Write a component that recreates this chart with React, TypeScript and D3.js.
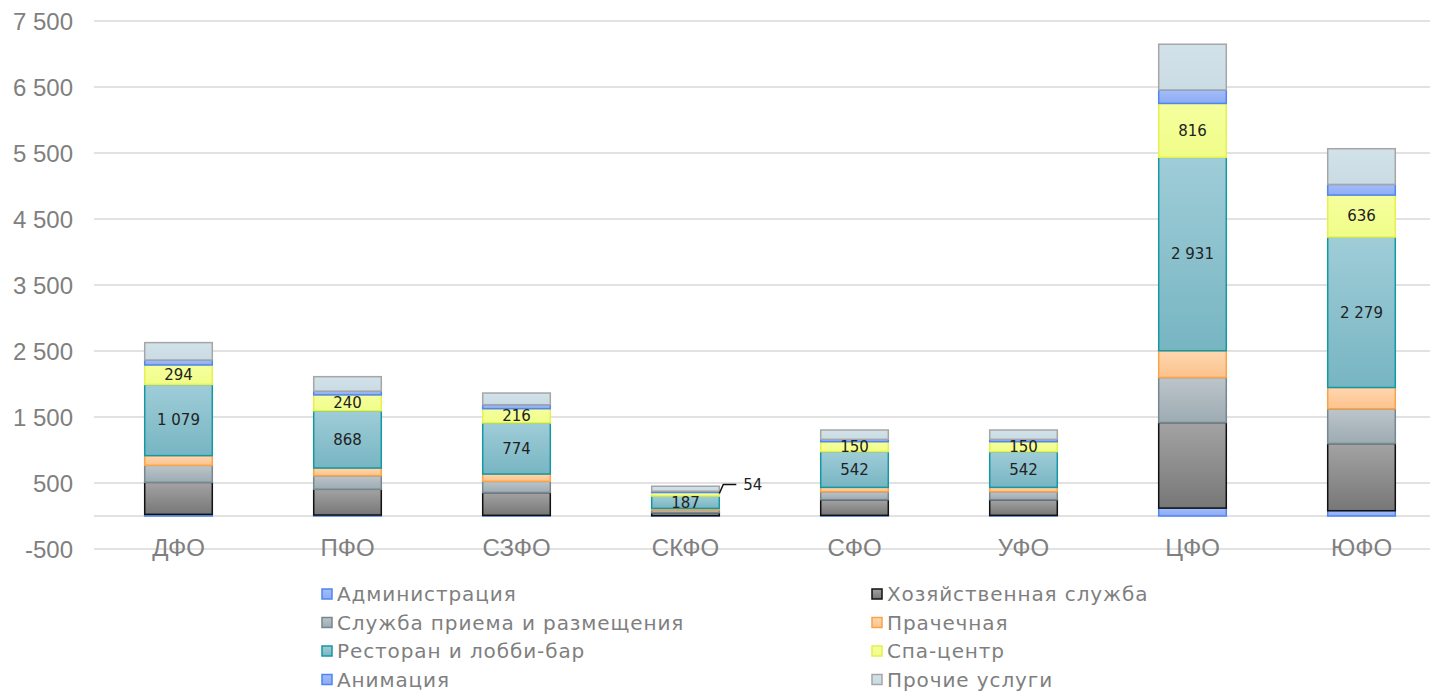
import React from 'react';
import * as d3 from 'd3';

const categories = ['ДФО', 'ПФО', 'СЗФО', 'СКФО', 'СФО', 'УФО', 'ЦФО', 'ЮФО'];
const seriesNames = [
    'Администрация',
    'Хозяйственная служба',
    'Служба приема и размещения',
    'Прачечная',
    'Ресторан и лобби-бар',
    'Спа-центр',
    'Анимация',
    'Прочие услуги',
];
const admin = [25, 15, 10, 5, 10, 10, 120, 80];
const housekeeping = [485, 390, 345, 45, 237, 237, 1296, 1018];
const reception = [258, 206, 170, 40, 122, 122, 683, 526];
const laundry = [147, 116, 111, 25, 65, 65, 405, 323];
const restaurant = [1079, 868, 774, 187, 542, 542, 2931, 2279];
const spa = [294, 240, 216, 54, 150, 150, 816, 636];
const animation = [76, 56, 60, 20, 35, 35, 204, 162];
const other = [263, 220, 177, 75, 142, 142, 693, 541];
const yTicks = [-500, 500, 1500, 2500, 3500, 4500, 5500, 6500, 7500];

const seriesValues = [admin, housekeeping, reception, laundry, restaurant, spa, animation, other];
// серии с подписями данных
const labelled = [4, 5];

// цвета: верх градиента, низ градиента, рамка
const palette = [
    ['#a3bdf8', '#8eabf5', '#4f86f0'],
    ['#a3a3a3', '#777777', '#111111'],
    ['#bcc5ca', '#9dabb2', '#76878f'],
    ['#ffd7b0', '#fcc28c', '#f8a448'],
    ['#9fcdd8', '#77b5c2', '#1598a3'],
    ['#f5ff9e', '#f0fd88', '#e6f04e'],
    ['#a3bdf8', '#8eabf5', '#4f86f0'],
    ['#d3e2e9', '#c9dbe4', '#a6a6a6'],
];

const W = 1430;
const H = 691;

const ru = d3.formatLocale({decimal: ',', thousands: '\u00a0', grouping: [3], currency: ['', ''], minus: '-'});
const fmt = ru.format(',d');

const App: React.FC = () => {
    const rows = categories.map((c, i) => {
        const r: any = {cat: c};
        seriesNames.forEach((s, k) => (r[s] = seriesValues[k][i]));
        return r;
    });
    const stacked = d3.stack<any>().keys(seriesNames)(rows);

    const x = d3.scaleBand()
        .domain(categories)
        .range([94, 94 + 169 * 8])
        .paddingInner(0.6)
        .paddingOuter(0.3);
    const y = d3.scaleLinear().domain([-500, 7500]).range([549, 21]);

    const axisFont = '"Liberation Sans", Arial, sans-serif';
    const labelFont = '"DejaVu Sans", sans-serif';

    return (
        <div style={{position: 'absolute', left: 0, top: 0}}>
            <svg width={W} height={H} viewBox={`0 0 ${W} ${H}`} style={{display: 'block', background: '#fff'}}>
                <defs>
                    {palette.map((p, k) => (
                        <linearGradient key={k} id={`g${k}`} x1="0" y1="0" x2="0" y2="1">
                            <stop offset="0" stopColor={p[0]}/>
                            <stop offset="1" stopColor={p[1]}/>
                        </linearGradient>
                    ))}
                </defs>

                {/* сетка */}
                {[...yTicks, 0].map(t => (
                    <line key={t} x1={94} x2={W} y1={y(t)} y2={y(t)} stroke="#d9d9d9" strokeWidth={1.5}/>
                ))}
                {yTicks.map(t => (
                    <text key={t} x={73} y={y(t)} dy="0.36em" textAnchor="end"
                          fontFamily={axisFont} fontSize={24} fill="#7f7f7f">
                        {fmt(t)}
                    </text>
                ))}

                {/* столбцы */}
                {stacked.map((layer, k) => (
                    <g key={layer.key}>
                        {layer.map((d, i) => (
                            <rect key={i}
                                  x={x(categories[i])!}
                                  y={y(d[1])}
                                  width={x.bandwidth()}
                                  height={Math.max(0, y(d[0]) - y(d[1]))}
                                  fill={`url(#g${k})`}
                                  stroke={palette[k][2]}
                                  strokeWidth={1.5}/>
                        ))}
                    </g>
                ))}

                {/* подписи данных */}
                {labelled.map(k => stacked[k].map((d, i) => {
                    const cx = x(categories[i])! + x.bandwidth() / 2;
                    const h = y(d[0]) - y(d[1]);
                    const v = seriesValues[k][i];
                    if (h < 6) {
                        // выносная подпись
                        const x0 = x(categories[i])! + x.bandwidth();
                        const y0 = y(d[1]) + 1;
                        const yl = y0 - 9;
                        return (
                            <g key={`${k}-${i}`}>
                                <path d={`M${x0},${y0} L${x0 + 4},${yl} L${x0 + 17},${yl}`}
                                      fill="none" stroke="#111" strokeWidth={1.5}/>
                                <text x={x0 + 24} y={yl} dy="0.36em" fontFamily={labelFont}
                                      fontSize={15} fill="#222">{fmt(v)}</text>
                            </g>
                        );
                    }
                    return (
                        <text key={`${k}-${i}`} x={cx} y={(y(d[0]) + y(d[1])) / 2} dy="0.36em"
                              textAnchor="middle" fontFamily={labelFont} fontSize={15} fill="#222">
                            {fmt(v)}
                        </text>
                    );
                }))}

                {/* категории */}
                {categories.map(c => (
                    <text key={c} x={x(c)! + x.bandwidth() / 2} y={547} dy="0.36em" textAnchor="middle"
                          fontFamily={axisFont} fontSize={24} fill="#7f7f7f">
                        {c}
                    </text>
                ))}

                {/* легенда */}
                {seriesNames.map((s, k) => {
                    const col = k % 2;
                    const row = Math.floor(k / 2);
                    const lx = col === 0 ? 322 : 872;
                    const ly = 594 + row * 28.5;
                    return (
                        <g key={s}>
                            <rect x={lx} y={ly - 5} width={10} height={10} fill={`url(#g${k})`}
                                  stroke={palette[k][2]} strokeWidth={1.5}/>
                            <text x={lx + 15} y={ly} dy="0.36em" fontFamily={labelFont} fontSize={20}
                                  letterSpacing={0.9} fill="#7f7f7f">{s}</text>
                        </g>
                    );
                })}
            </svg>
        </div>
    );
};

export default App;
